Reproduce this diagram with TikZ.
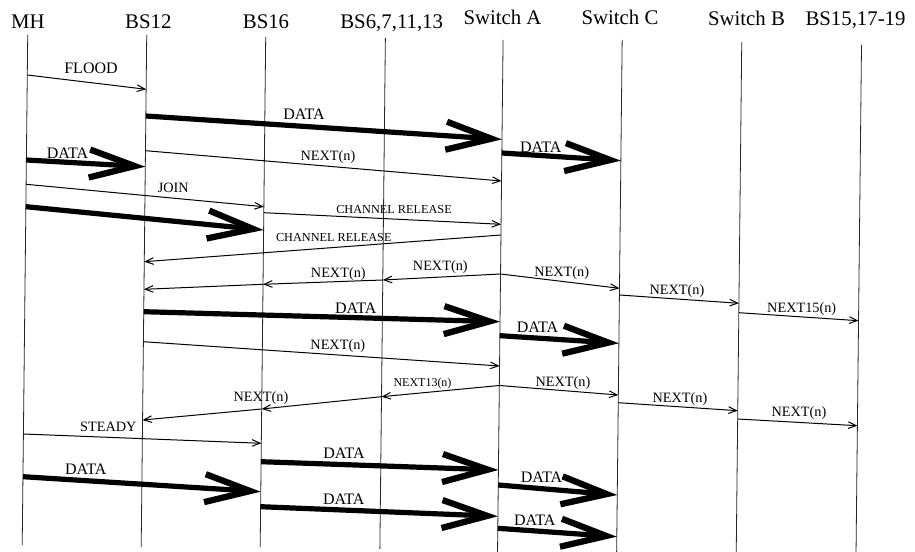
\documentclass[tikz,border=0pt]{standalone}
\usepackage{fontspec}
\setmainfont{Liberation Serif}
\usetikzlibrary{arrows.meta,calc}
% point on a (slightly tilted) lifeline at pixel height y
\newcommand\llpt[3]{\pgfmathsetmacro\llptx{\csname x#2\endcsname-0.0108*(#3)}\coordinate (#1) at (\llptx,#3);}
\def\xMH{28.1}
\def\xBA{147.1}
\def\xBB{266.1}
\def\xBC{385.8}
\def\xSA{503.5}
\def\xSC{622.6}
\def\xSB{742.2}
\def\xBD{862.0}
\begin{document}
\begin{tikzpicture}[x=0.75pt,y=-0.75pt,
  life/.style={line width=0.6pt, draw=black!85},
  head/.style={font=\fontsize{15.6}{18}\selectfont, inner sep=0pt, anchor=base},
  msg/.style={line width=0.75pt, -{Straight Barb[length=6pt,width=5pt]}},
  data/.style={line width=3.9pt, -{Straight Barb[length=34pt,width=21pt,line width=4.7pt]}},
  lblD/.style={font=\fontsize{12}{14}\selectfont, inner sep=0pt, anchor=base},
  lblN/.style={font=\fontsize{10.7}{12}\selectfont, inner sep=0pt, anchor=base},
  lblC/.style={font=\fontsize{9.2}{11}\selectfont, inner sep=0pt, anchor=base},
  lblS/.style={font=\fontsize{9}{11}\selectfont, inner sep=0pt, anchor=base}]
\useasboundingbox (0,0) rectangle (915,552);
% headers
\node[head] (hMH) at (28,28.3) {MH};
\node[head] (hBA) at (148.3,28.3) {BS12};
\node[head] (hBB) at (266,28.3) {BS16};
\node[head] (hBC) at (391.7,28.3) {BS6,7,11,13};
\node[head] (hSA) at (502.5,25) {Switch A};
\node[head] (hSC) at (620,25) {Switch C};
\node[head] (hSB) at (746.5,26) {Switch B};
\node[head] (hBD) at (855.5,26) {BS15,17-19};
% lifelines
\llpt{MHt}{MH}{35}  \llpt{MHb}{MH}{545}
\llpt{BAt}{BA}{35}  \llpt{BAb}{BA}{547}
\llpt{BBt}{BB}{37}  \llpt{BBb}{BB}{547}
\llpt{BCt}{BC}{38}  \llpt{BCb}{BC}{549}
\llpt{SAt}{SA}{40}  \llpt{SAb}{SA}{552}
\llpt{SCt}{SC}{40}  \llpt{SCb}{SC}{552}
\llpt{SBt}{SB}{42}  \llpt{SBb}{SB}{552}
\llpt{BDt}{BD}{45}  \llpt{BDb}{BD}{552}
\foreach \l in {MH,BA,BB,BC,SA,SC,SB,BD} \draw[life] (\l t) -- (\l b);
% messages
\llpt{a1}{MH}{75} \llpt{a2}{BA}{89.3}
\draw[msg] (a1) -- (a2) node[lblD] at (91,74) {FLOOD};
\llpt{b1}{BA}{116} \llpt{b2}{SA}{139.4}
\draw[data] (b1) -- (b2) node[lblD] at (304,119.3) {DATA};
\llpt{c1}{MH}{160} \llpt{c2}{BA}{166.7}
\draw[data] (c1) -- (c2) node[lblD] at (67.5,159) {DATA};
\llpt{d1}{SA}{153} \llpt{d2}{SC}{160.7}
\draw[data] (d1) -- (d2) node[lblD] at (540.8,152.5) {DATA};
\llpt{e1}{BA}{150.7} \llpt{e2}{SA}{181}
\draw[msg] (e1) -- (e2) node[lblN] at (328,161) {NEXT(n)};
\llpt{f1}{MH}{184.3} \llpt{f2}{BB}{206.7}
\draw[msg] (f1) -- (f2) node[lblN] at (173.3,193) {JOIN};
\llpt{g1}{MH}{206.7} \llpt{g2}{BB}{230}
\draw[data] (g1) -- (g2);
\llpt{h1}{BB}{212.7} \llpt{h2}{SA}{224.3}
\draw[msg] (h1) -- (h2) node[lblC] at (394,214) {CHANNEL RELEASE};
\llpt{i1}{SA}{235} \llpt{i2}{BA}{261.7}
\draw[msg] (i1) -- (i2) node[lblC] at (333.8,242) {CHANNEL RELEASE};
\llpt{j1}{SA}{274} \llpt{j2}{BC}{280} \llpt{j3}{BB}{284.3} \llpt{j4}{BA}{289.3}
\draw[msg] (j1) -- (j2) node[lblN] at (440.3,271) {NEXT(n)};
\draw[msg] (j2) -- (j3) node[lblN] at (338.3,277.5) {NEXT(n)};
\draw[msg] (j3) -- (j4);
\llpt{k1}{SC}{288.3}
\draw[msg] (j1) -- (k1) node[lblN] at (561.7,277) {NEXT(n)};
\llpt{l1}{SC}{295} \llpt{l2}{SB}{303.3}
\draw[msg] (l1) -- (l2) node[lblN] at (677,295) {NEXT(n)};
\llpt{n1}{SB}{312.7} \llpt{n2}{BD}{320.7}
\draw[msg] (n1) -- (n2) node[lblN] at (801.7,312.7) {NEXT15(n)};
\llpt{o1}{BA}{311.7} \llpt{o2}{SA}{321.7}
\draw[data] (o1) -- (o2) node[lblD] at (355.8,314) {DATA};
\llpt{p1}{SA}{335.7} \llpt{p2}{SC}{343.3}
\draw[data] (p1) -- (p2) node[lblD] at (537.5,333) {DATA};
\llpt{q1}{BA}{341.7} \llpt{q2}{SA}{366}
\draw[msg] (q1) -- (q2) node[lblN] at (337.8,350) {NEXT(n)};
\llpt{r1}{SA}{385.5} \llpt{r2}{SC}{395}
\draw[msg] (r1) -- (r2) node[lblN] at (563,387) {NEXT(n)};
\llpt{s1}{SC}{402.7} \llpt{s2}{SB}{410.7}
\draw[msg] (s1) -- (s2) node[lblN] at (680,403) {NEXT(n)};
\llpt{t1}{SB}{419} \llpt{t2}{BD}{425.7}
\draw[msg] (t1) -- (t2) node[lblN] at (799,417) {NEXT(n)};
\llpt{u2}{BC}{396.7} \llpt{u3}{BB}{409} \llpt{u4}{BA}{420}
\draw[msg] (r1) -- (u2) node[lblS] at (422.5,387) {NEXT13(n)};
\draw[msg] (u2) -- (u3) node[lblN] at (261,402) {NEXT(n)};
\draw[msg] (u3) -- (u4);
\llpt{v1}{MH}{434} \llpt{v2}{BB}{443.3}
\draw[msg] (v1) -- (v2) node[lblN] at (108.3,431.5) {STEADY};
\llpt{w1}{BB}{461.7} \llpt{w2}{SA}{470}
\draw[data] (w1) -- (w2) node[lblD] at (344,459) {DATA};
\llpt{x1}{MH}{476.7} \llpt{x2}{BB}{491.7}
\draw[data] (x1) -- (x2) node[lblD] at (85.8,475) {DATA};
\llpt{y1}{SA}{485} \llpt{y2}{SC}{495}
\draw[data] (y1) -- (y2) node[lblD] at (541.5,482.5) {DATA};
\llpt{z1}{BB}{506.7} \llpt{z2}{SA}{516.3}
\draw[data] (z1) -- (z2) node[lblD] at (343.8,505) {DATA};
\llpt{zz1}{SA}{528.3} \llpt{zz2}{SC}{536.7}
\draw[data] (zz1) -- (zz2) node[lblD] at (534.8,525.5) {DATA};
\end{tikzpicture}
\end{document}
